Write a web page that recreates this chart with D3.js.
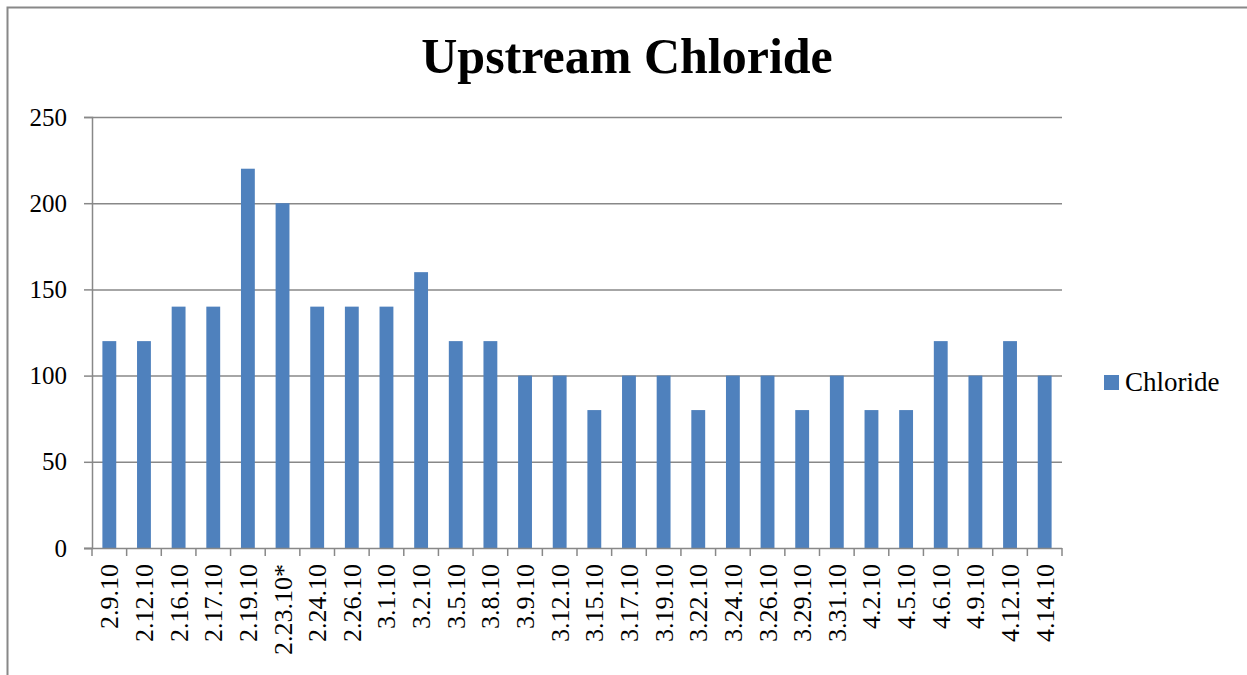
<!DOCTYPE html>
<html>
<head>
<meta charset="utf-8">
<script src="https://cdn.jsdelivr.net/npm/d3@7"></script>
<style>
  body { margin: 0; background: #fff; }
  svg text { font-family: "Liberation Serif", "DejaVu Serif", serif; fill: #000; }
</style>
</head>
<body>
<svg id="chart" width="1247" height="675"></svg>
<script>
var dates = ["2.9.10", "2.12.10", "2.16.10", "2.17.10", "2.19.10", "2.23.10*", "2.24.10", "2.26.10",
             "3.1.10", "3.2.10", "3.5.10", "3.8.10", "3.9.10", "3.12.10", "3.15.10", "3.17.10",
             "3.19.10", "3.22.10", "3.24.10", "3.26.10", "3.29.10", "3.31.10", "4.2.10", "4.5.10",
             "4.6.10", "4.9.10", "4.12.10", "4.14.10"];
var chloride = [120, 120, 140, 140, 220, 200, 140, 140, 140, 160, 120, 120, 100, 100, 80, 100,
                100, 80, 100, 100, 80, 100, 80, 80, 120, 100, 120, 100];
var yTicks = [0, 50, 100, 150, 200, 250];

var svg = d3.select("#chart");

var margin = {top: 117, right: 185, bottom: 127, left: 92},
    width  = 1247 - margin.left - margin.right,
    height = 675 - margin.top - margin.bottom;

var x = d3.scaleBand().domain(dates).range([0, width]).paddingInner(0.6).paddingOuter(0.3);
var y = d3.scaleLinear().domain([0, 250]).range([height, 0]);

// outer frame
svg.append("path")
    .attr("d", "M7.5,675 L7.5,7.5 L1247,7.5")
    .style("fill", "none")
    .style("stroke", "#888")
    .style("stroke-width", 2);

var g = svg.append("g").attr("transform", `translate(${margin.left}, ${margin.top})`);

// gridlines
g.selectAll(".grid")
    .data(yTicks.filter(function(d) { return d > 0; }))
    .enter().append("line")
    .attr("x1", 0).attr("x2", width)
    .attr("y1", function(d) { return y(d) + 0.5; })
    .attr("y2", function(d) { return y(d) + 0.5; })
    .style("stroke", "#888")
    .style("stroke-width", 1.5);

// bars
g.selectAll(".bar")
    .data(chloride)
    .enter().append("rect")
    .attr("x", function(d, i) { return x(dates[i]); })
    .attr("width", x.bandwidth())
    .attr("y", function(d) { return y(d); })
    .attr("height", function(d) { return height - y(d); })
    .style("fill", "#4F81BD");

// y axis
var yAxis = g.append("g")
    .call(d3.axisLeft(y).tickValues(yTicks).tickSize(8).tickPadding(17));
yAxis.selectAll("path, line").style("stroke", "#888").style("stroke-width", 1.5);
yAxis.selectAll("text").style("font-size", "25px").style("font-family", "Liberation Serif, serif");

// x axis: ticks between categories
var step = x.step();
var xAxis = g.append("g").attr("transform", `translate(0, ${height})`);
xAxis.append("line")
    .attr("x1", -8).attr("x2", width)
    .attr("y1", 0.5).attr("y2", 0.5)
    .style("stroke", "#888").style("stroke-width", 1.5);
xAxis.selectAll(".tick")
    .data(d3.range(dates.length + 1))
    .enter().append("line")
    .attr("x1", function(i) { return i * step; })
    .attr("x2", function(i) { return i * step; })
    .attr("y1", 0).attr("y2", 8)
    .style("stroke", "#888").style("stroke-width", 1.5);
xAxis.selectAll(".lbl")
    .data(dates)
    .enter().append("text")
    .attr("transform", function(d) {
        return `translate(${x(d) + x.bandwidth() / 2 + 9}, 16) rotate(-90)`;
    })
    .style("text-anchor", "end")
    .style("font-size", "26px")
    .text(function(d) { return d; });

// title
svg.append("text")
    .attr("x", 627)
    .attr("y", 73)
    .style("text-anchor", "middle")
    .style("font-size", "50px")
    .style("font-weight", "bold")
    .text("Upstream Chloride");

// legend
svg.append("rect")
    .attr("x", 1104).attr("y", 375)
    .attr("width", 15).attr("height", 15)
    .style("fill", "#4F81BD");
svg.append("text")
    .attr("x", 1125).attr("y", 391)
    .style("font-size", "27px")
    .text("Chloride");
</script>
</body>
</html>
